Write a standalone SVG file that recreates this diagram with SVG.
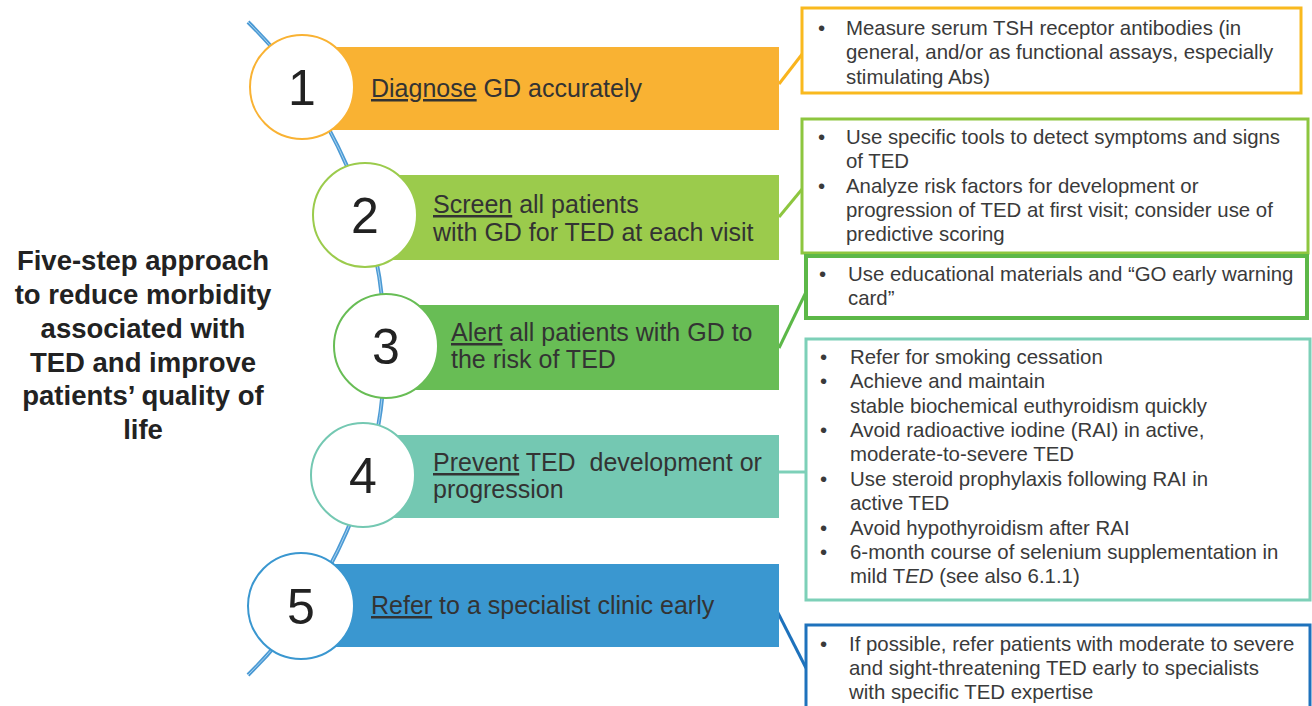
<svg xmlns="http://www.w3.org/2000/svg" width="1312" height="706" viewBox="0 0 1312 706">
<style>
.bt{font-family:"Liberation Sans",Arial,sans-serif;font-size:25px;fill:#333;white-space:pre}
.num{font-family:"Liberation Sans",Arial,sans-serif;font-size:50px;fill:#222;text-anchor:middle}
.bx{font-family:"Liberation Sans",Arial,sans-serif;font-size:20.4px;fill:#3a3a3a}
.ttl{font-family:"Liberation Sans",Arial,sans-serif;font-size:27.5px;font-weight:bold;fill:#222;text-anchor:middle}
.u{text-decoration:underline}
.circ{fill:#fff;stroke-width:2}
.box{fill:#fff;stroke-width:3}
.con{fill:none;stroke-width:3}
</style>
<rect width="1312" height="706" fill="#fff"/>
<g id="title">
<text class="ttl" x="143" y="270">Five-step approach</text>
<text class="ttl" x="143" y="304">to reduce morbidity</text>
<text class="ttl" x="143" y="338">associated with</text>
<text class="ttl" x="143" y="372">TED and improve</text>
<text class="ttl" x="143" y="405">patients’ quality of</text>
<text class="ttl" x="143" y="439">life</text>
</g>
<g id="spine">
<path d="M248 22 A458 458 0 0 1 248 675" fill="none" stroke="#4b9ad4" stroke-width="4"/>
<path d="M248 22 A458 458 0 0 1 248 675" fill="none" stroke="#a9d2ef" stroke-width="1"/>
</g>
<g id="connectors">
<path class="con" d="M779 84 L803 53" stroke="#f9b41e"/>
<path class="con" d="M779 217 L803 188" stroke="#8dc63f"/>
<path class="con" d="M779 348 L807 290" stroke="#5cb848"/>
<path class="con" d="M779 472 L807 472" stroke="#7dd0b8"/>
<path class="con" d="M775 607 L806 668" stroke="#1e72bc"/>
</g>
<g id="step1">
<rect x="302" y="47" width="477" height="83" fill="#f9b233"/>
<circle class="circ" cx="302" cy="87" r="52" stroke="#f9b233"/>
<text class="num" x="302" y="105">1</text>
<text class="bt" x="371" y="97"><tspan class="u">Diagnose</tspan> GD accurately</text>
</g>
<g id="step2">
<rect x="365" y="175" width="414" height="85" fill="#9bcb4c"/>
<circle class="circ" cx="365" cy="215" r="52" stroke="#9bcb4c"/>
<text class="num" x="365" y="233">2</text>
<text class="bt" x="433" y="213"><tspan class="u">Screen</tspan> all patients</text>
<text class="bt" x="433" y="241">with GD for TED at each visit</text>
</g>
<g id="step3">
<rect x="386" y="305" width="393" height="85" fill="#68bd55"/>
<circle class="circ" cx="386" cy="346" r="52" stroke="#68bd55"/>
<text class="num" x="386" y="364">3</text>
<text class="bt" x="451" y="341"><tspan class="u">Alert</tspan> all patients with GD to</text>
<text class="bt" x="451" y="368">the risk of TED</text>
</g>
<g id="step4">
<rect x="363" y="435" width="416" height="83" fill="#74c8b2"/>
<circle class="circ" cx="363" cy="475" r="52" stroke="#74c8b2"/>
<text class="num" x="363" y="493">4</text>
<text class="bt" x="433" y="471" xml:space="preserve"><tspan class="u">Prevent</tspan> TED  development or</text>
<text class="bt" x="433" y="498">progression</text>
</g>
<g id="step5">
<rect x="301" y="564" width="478" height="83" fill="#3a97d0"/>
<circle class="circ" cx="301" cy="606" r="53" stroke="#3a97d0"/>
<text class="num" x="301" y="624">5</text>
<text class="bt" x="371" y="614"><tspan class="u">Refer</tspan> to a specialist clinic early</text>
</g>
<g id="box1">
<rect class="box" x="802" y="8" width="499" height="85" stroke="#f9b91e"/>
<text class="bx" x="818" y="35">•</text>
<text class="bx" x="846" y="35">Measure serum TSH receptor antibodies (in</text>
<text class="bx" x="846" y="59">general, and/or as functional assays, especially</text>
<text class="bx" x="846" y="84">stimulating Abs)</text>
</g>
<g id="box2">
<rect class="box" x="802" y="119" width="506" height="134" stroke="#8dc63f"/>
<text class="bx" x="818" y="144">•</text>
<text class="bx" x="846" y="144">Use specific tools to detect symptoms and signs</text>
<text class="bx" x="846" y="168">of TED</text>
<text class="bx" x="818" y="193">•</text>
<text class="bx" x="846" y="193">Analyze risk factors for development or</text>
<text class="bx" x="846" y="217">progression of TED at first visit; consider use of</text>
<text class="bx" x="846" y="241">predictive scoring</text>
</g>
<g id="box3">
<rect x="806" y="256" width="501" height="62" fill="#fff" stroke="#5cb848" stroke-width="4"/>
<text class="bx" x="819" y="281">•</text>
<text class="bx" x="848" y="281">Use educational materials and “GO early warning</text>
<text class="bx" x="848" y="305">card”</text>
</g>
<g id="box4">
<rect class="box" x="806" y="339" width="504" height="261" stroke="#7dd0b8"/>
<text class="bx" x="820" y="364">•</text>
<text class="bx" x="850" y="364">Refer for smoking cessation</text>
<text class="bx" x="820" y="388">•</text>
<text class="bx" x="850" y="388">Achieve and maintain</text>
<text class="bx" x="850" y="413">stable biochemical euthyroidism quickly</text>
<text class="bx" x="820" y="437">•</text>
<text class="bx" x="850" y="437">Avoid radioactive iodine (RAI) in active,</text>
<text class="bx" x="850" y="461">moderate-to-severe TED</text>
<text class="bx" x="820" y="486">•</text>
<text class="bx" x="850" y="486">Use steroid prophylaxis following RAI in</text>
<text class="bx" x="850" y="510">active TED</text>
<text class="bx" x="820" y="535">•</text>
<text class="bx" x="850" y="535">Avoid hypothyroidism after RAI</text>
<text class="bx" x="820" y="559">•</text>
<text class="bx" x="850" y="559">6-month course of selenium supplementation in</text>
<text class="bx" x="850" y="583">mild T<tspan font-style="italic">ED</tspan> (see also 6.1.1)</text>
</g>
<g id="box5">
<rect class="box" x="806" y="625" width="504" height="90" stroke="#1e72bc"/>
<text class="bx" x="820" y="651">•</text>
<text class="bx" x="849" y="651">If possible, refer patients with moderate to severe</text>
<text class="bx" x="849" y="675">and sight-threatening TED early to specialists</text>
<text class="bx" x="849" y="699">with specific TED expertise</text>
</g>
</svg>
